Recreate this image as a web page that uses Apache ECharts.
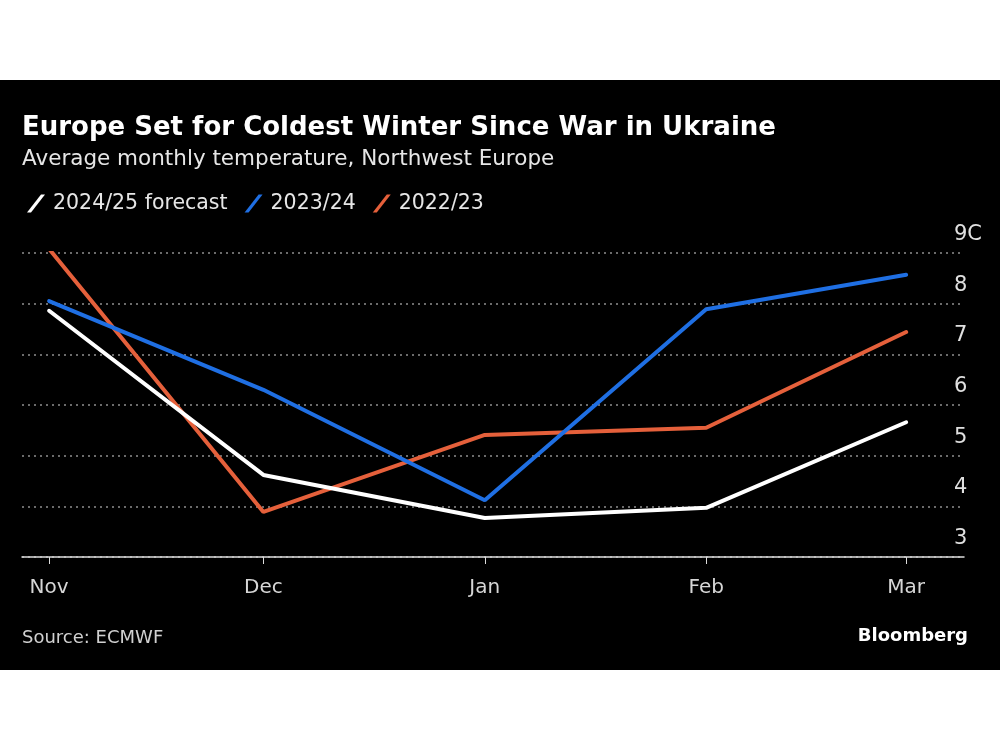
<!DOCTYPE html>
<html>
<head>
<meta charset="utf-8">
<script src="https://cdn.jsdelivr.net/npm/echarts@6/dist/echarts.min.js"></script>
<style>
  html, body { margin: 0; padding: 0; background: #ffffff; }
  #chart { width: 1000px; height: 750px; }
</style>
</head>
<body>
<div id="chart"></div>
<script>
// ---- data ----
const months = ['Nov', 'Dec', 'Jan', 'Feb', 'Mar'];
const monthDates = ['2024-11-01', '2024-12-01', '2025-01-01', '2025-02-01', '2025-03-01'];
const forecast2425 = [7.86, 4.62, 3.77, 3.97, 5.66];
const season2324 = [8.05, 6.30, 4.12, 7.89, 8.57];
const season2223 = [9.08, 3.89, 5.41, 5.55, 7.44];
const seriesNames = ['2024/25 forecast', '2023/24', '2022/23'];

const FONT = 'DejaVu Sans';
const DAY = 86400000;
const t = s => Date.UTC(+s.slice(0, 4), +s.slice(5, 7) - 1, +s.slice(8, 10));
// days since the first month of the season (time scale in days)
const monthDays = monthDates.map(s => Math.round((t(s) - t(monthDates[0])) / DAY));
const pairs = vals => monthDays.map((x, i) => [x, vals[i]]);
const slash = 'path://M1,18 L15,0 L19,0 L5,18 Z';

const chart = echarts.init(document.getElementById('chart'), null, { renderer: 'canvas' });
chart.setOption({
  backgroundColor: '#ffffff',
  animation: false,
  graphic: [
    { type: 'rect', z: -10, shape: { x: 0, y: 80, width: 1000, height: 590 }, style: { fill: '#000000' } },
    { type: 'text', left: 22, top: 115, style: { text: 'Europe Set for Coldest Winter Since War in Ukraine', fill: '#ffffff', font: 'bold 26px "' + FONT + '"' } },
    { type: 'text', left: 22, top: 148, style: { text: 'Average monthly temperature, Northwest Europe', fill: '#e6e6e6', font: '21.5px "' + FONT + '"' } },
    { type: 'text', left: 22, top: 629, style: { text: 'Source: ECMWF', fill: '#d0d0d0', font: '18px "' + FONT + '"' } },
    { type: 'text', right: 32, top: 627, style: { text: 'Bloomberg', fill: '#ffffff', font: 'bold 18px "' + FONT + '"' } }
  ],
  legend: {
    left: 22, top: 188,
    itemWidth: 20, itemHeight: 18, itemGap: 17,
    icon: slash,
    textStyle: { color: '#e6e6e6', fontSize: 20.5, fontFamily: FONT, padding: [0, 0, 0, 2] },
    data: seriesNames
  },
  grid: { left: 22, right: 36, top: 253, bottom: 193, containLabel: false },
  xAxis: {
    type: 'value',
    min: -3.8,
    max: monthDays[4] + 8.1,
    axisLine: { show: true, lineStyle: { color: '#dddddd', width: 1.5 } },
    axisTick: { show: true, length: 7, lineStyle: { color: '#dddddd' }, customValues: monthDays },
    axisLabel: {
      customValues: monthDays,
      color: '#d6d6d6', fontSize: 20, fontFamily: FONT, margin: 21,
      formatter: v => months[monthDays.indexOf(v)] || ''
    },
    splitLine: { show: false }
  },
  yAxis: {
    type: 'value', position: 'right',
    min: 3, max: 9, interval: 1,
    axisLine: { show: false }, axisTick: { show: false },
    axisLabel: {
      color: '#e0e0e0', fontSize: 21, fontFamily: FONT,
      margin: -10, align: 'left', verticalAlign: 'bottom', padding: [0, 0, 8, 0],
      formatter: v => v === 9 ? '9C' : String(v)
    },
    splitLine: { show: true, lineStyle: { color: '#8f8f8f', type: [2, 4], width: 1.5 } }
  },
  series: [
    { name: seriesNames[0], type: 'line', data: pairs(forecast2425), symbol: 'none', lineStyle: { color: '#ffffff', width: 4, cap: 'round' }, itemStyle: { color: '#ffffff' }, z: 3 },
    { name: seriesNames[1], type: 'line', data: pairs(season2324), symbol: 'none', lineStyle: { color: '#1f6fe3', width: 4, cap: 'round' }, itemStyle: { color: '#1f6fe3' }, z: 2 },
    { name: seriesNames[2], type: 'line', data: pairs(season2223), symbol: 'none', lineStyle: { color: '#e5603b', width: 4, cap: 'round' }, itemStyle: { color: '#e5603b' }, z: 1 }
  ]
});
</script>
</body>
</html>
